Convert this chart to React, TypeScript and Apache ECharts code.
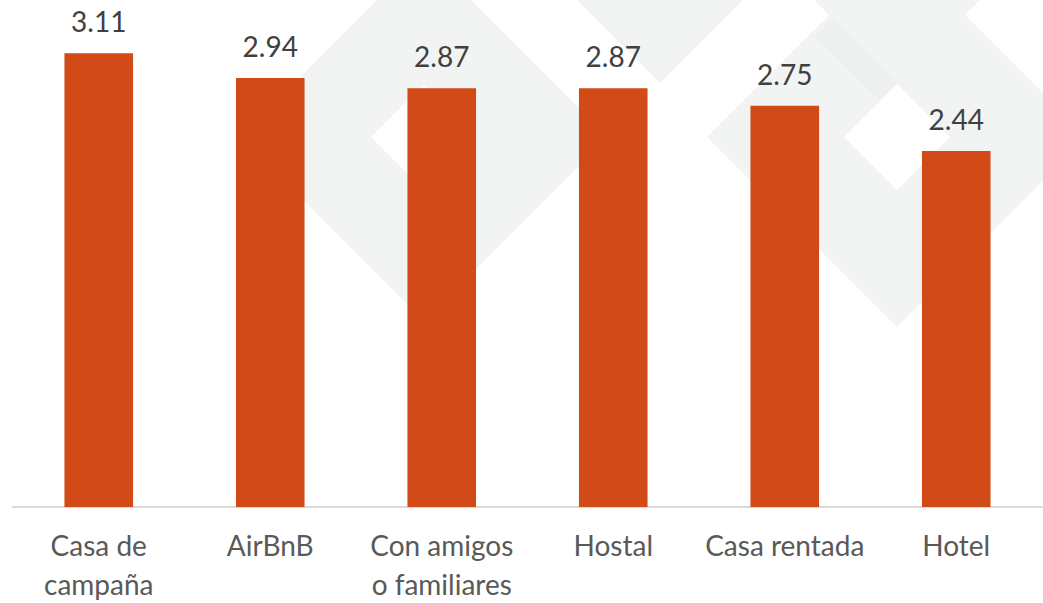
import React, { useEffect, useRef } from "react";
import * as echarts from "echarts";

const categories = [
  "Casa de\ncampaña",
  "AirBnB",
  "Con amigos\no familiares",
  "Hostal",
  "Casa rentada",
  "Hotel",
];
const values = [3.11, 2.94, 2.87, 2.87, 2.75, 2.44];

const BAR_COLOR = "#D24A18";
const WM = "#F2F3F3";
const WM_DARK = "#EEEFEF";
const FONT = "Lato, 'Open Sans', sans-serif";

function diamond(cx: number, cy: number, r: number) {
  return [
    [cx, cy - r],
    [cx + r, cy],
    [cx, cy + r],
    [cx - r, cy],
  ];
}

export default function App() {
  const ref = useRef<HTMLDivElement>(null);
  useEffect(() => {
    document.body.style.margin = "0";
    if (!ref.current) return;
    const chart = echarts.init(ref.current, undefined, { renderer: "svg" });
    const poly = (points: number[][], fill: string, z: number) => ({
      type: "polygon",
      silent: true,
      z,
      shape: { points },
      style: { fill },
    });
    chart.setOption({
      animation: false,
      backgroundColor: "#FFFFFF",
      graphic: {
        elements: [
          poly(diamond(424, 137, 184), WM, 0),
          poly(diamond(660, -101, 184), WM, 0),
          poly(diamond(897, -101, 184), WM, 0),
          poly(diamond(897, 137, 190), WM, 0),
          poly(
            [
              [832, 18],
              [897, 83],
              [880, 100],
              [815, 37],
            ],
            WM_DARK,
            1
          ),
          poly(diamond(424, 137, 53), "#FFFFFF", 2),
          poly(diamond(897, 137, 53), "#FFFFFF", 2),
        ],
      },
      grid: { left: 13, right: 1, top: 40, bottom: 95, containLabel: false },
      xAxis: {
        type: "category",
        data: categories,
        axisLine: { show: true, lineStyle: { color: "#D9D9D9", width: 2 } },
        axisTick: { show: false },
        axisLabel: {
          color: "#595959",
          fontSize: 28,
          fontFamily: FONT,
          lineHeight: 39,
          margin: 18,
          interval: 0,
        },
        z: 10,
      },
      yAxis: {
        type: "value",
        min: 0,
        max: 3.2,
        show: false,
        splitLine: { show: false },
      },
      series: [
        {
          type: "bar",
          data: values,
          barWidth: "40%",
          z: 10,
          itemStyle: { color: BAR_COLOR },
          label: {
            show: true,
            position: "top",
            distance: 18,
            color: "#404040",
            fontSize: 28,
            fontFamily: FONT,
            formatter: (p: any) => Number(p.value).toFixed(2),
          },
        },
      ],
    });
    return () => chart.dispose();
  }, []);
  return <div ref={ref} style={{ width: 1043, height: 603 }} />;
}
